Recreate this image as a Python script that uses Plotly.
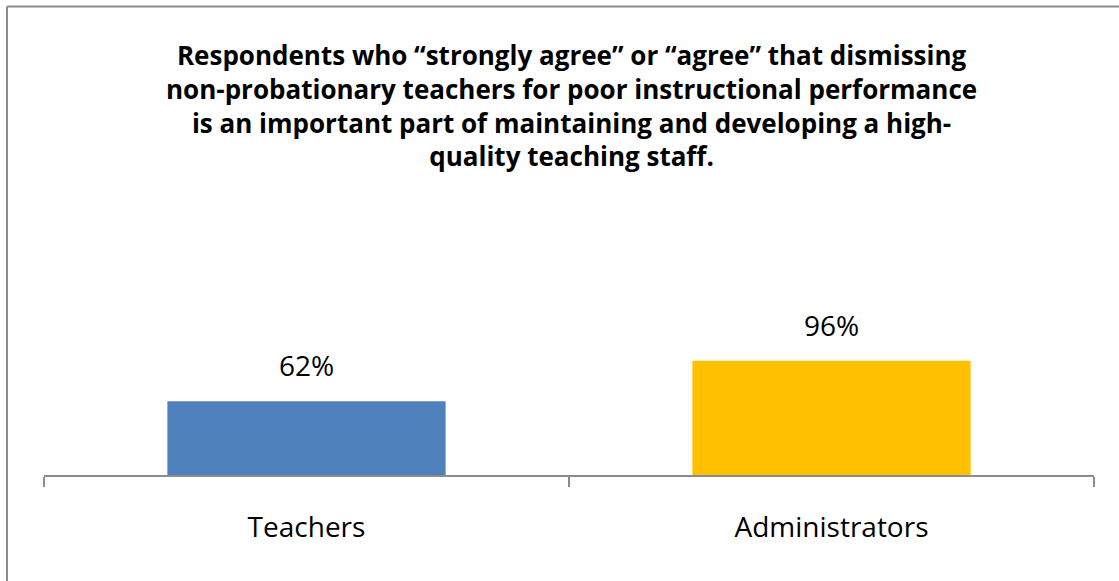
import plotly.graph_objects as go

categories = ["Teachers", "Administrators"]
values = [62, 96]
labels = ["62%", "96%"]
colors = ["#4F81BD", "#FFC000"]

title_lines = [
    "Respondents who \u201cstrongly agree\u201d or \u201cagree\u201d that dismissing",
    "non-probationary teachers for poor instructional performance",
    "is an important part of maintaining and developing a high-",
    "quality teaching staff.",
]

W, H = 1119, 581
ml, mr, mt, mb = 44, 25, 200, 106
pw = W - ml - mr
ph = H - mt - mb


def px_x(p):
    return (p - ml) / pw


def px_y(p):
    return (H - mb - p) / ph


fig = go.Figure()
fig.add_trace(go.Bar(
    x=categories, y=values, marker=dict(color=colors, line=dict(width=0)),
    width=0.53, hoverinfo="skip",
))

for c, v, t in zip(categories, values, labels):
    fig.add_annotation(x=c, y=v, text=t, showarrow=False, yanchor="bottom",
                       yshift=15, font=dict(family="Open Sans", size=28, color="#000000"))

fig.add_annotation(xref="paper", yref="paper", x=px_x(571), y=px_y(105),
                   xanchor="center", yanchor="middle", align="center",
                   text="<b>" + "<br>".join(title_lines) + "</b>",
                   showarrow=False,
                   font=dict(family="Open Sans", size=26, color="#000000"))

# chart border (top and left visible)
fig.add_shape(type="line", xref="paper", yref="paper",
              x0=px_x(7), x1=px_x(W + 5), y0=px_y(6.5), y1=px_y(6.5),
              line=dict(color="#8C8C8C", width=2))
fig.add_shape(type="line", xref="paper", yref="paper",
              x0=px_x(7), x1=px_x(7), y0=px_y(6.5), y1=px_y(H + 5),
              line=dict(color="#8C8C8C", width=2))

fig.update_layout(
    width=W, height=H,
    margin=dict(l=ml, r=mr, t=mt, b=mb),
    paper_bgcolor="white", plot_bgcolor="white",
    showlegend=False,
    xaxis=dict(
        type="category", range=[-0.5, 1.5],
        showline=True, linecolor="#8C8C8C", linewidth=2,
        ticks="outside", tickson="boundaries", ticklen=10, tickcolor="#8C8C8C", tickwidth=2,
        tickfont=dict(family="Open Sans", size=28, color="#000000"),
        ticklabelstandoff=26,
        showgrid=False, zeroline=False,
    ),
    yaxis=dict(range=[0, ph / 1.19], visible=False, showgrid=False, zeroline=False),
)

fig.write_html("out.html")
